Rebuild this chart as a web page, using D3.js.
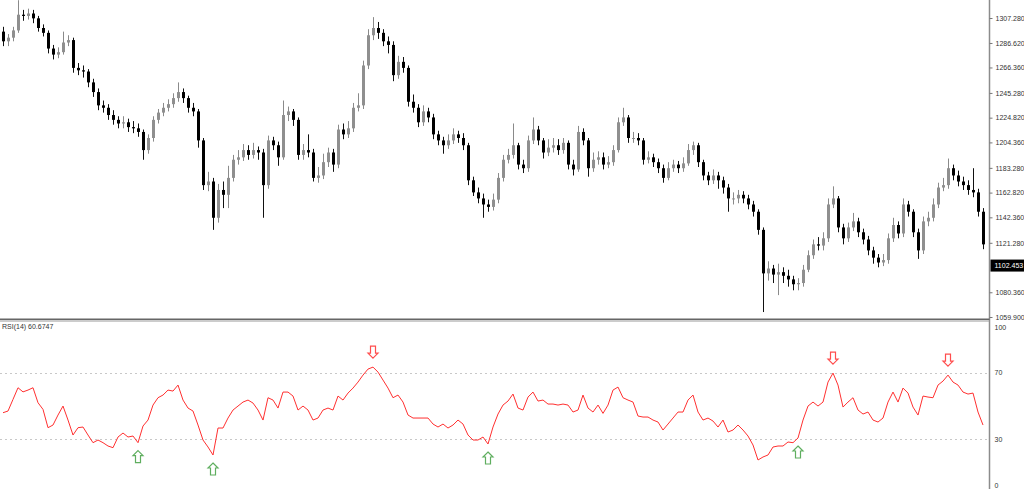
<!DOCTYPE html>
<html>
<head>
<meta charset="utf-8">
<script src="https://cdn.jsdelivr.net/npm/d3@7"></script>
<style>
  body { margin: 0; background: #fff; }
  svg text { font-family: "Liberation Sans", Arial, sans-serif; }
</style>
</head>
<body>
<div id="chart"></div>
<script>
// price candles (one per bar)
var opens = [1296,1288,1291,1297,1310,1309,1311,1307,1299,1295,
  1282,1277,1279,1287,1289,1266,1264,1263,1254,1246,
  1235,1233,1227,1223,1220,1221,1217,1216,1213,1198,
  1208,1223,1229,1233,1236,1241,1246,1241,1233,1230,
  1206,1169,1172,1142,1165,1161,1175,1190,1192,1198,
  1194,1198,1196,1169,1206,1202,1192,1227,1230,1223,
  1194,1198,1196,1175,1177,1188,1196,1186,1215,1211,
  1216,1233,1235,1268,1293,1299,1295,1288,1285,1260,
  1271,1266,1238,1233,1221,1230,1225,1211,1206,1202,
  1206,1211,1208,1202,1173,1163,1158,1153,1151,1157,
  1175,1190,1194,1202,1186,1183,1206,1215,1206,1196,
  1200,1202,1198,1204,1186,1182,1213,1206,1183,1190,
  1192,1186,1188,1198,1221,1225,1208,1208,1206,1190,
  1192,1188,1183,1175,1183,1186,1183,1187,1198,1202,
  1188,1177,1173,1177,1173,1167,1158,1158,1161,1158,
  1153,1147,1132,1096,1100,1095,1097,1094,1091,1087,
  1088,1099,1111,1120,1119,1125,1153,1158,1134,1125,
  1134,1139,1130,1124,1115,1109,1105,1107,1125,1136,
  1129,1153,1147,1130,1115,1139,1142,1153,1167,1169,
  1183,1177,1172,1169,1165,1163,1147];
var highs = [1300,1294,1300,1322,1314,1315,1314,1309,1302,1297,
  1285,1283,1296,1293,1291,1270,1268,1265,1257,1249,
  1239,1236,1231,1226,1226,1224,1222,1220,1215,1211,
  1226,1232,1237,1240,1245,1254,1249,1243,1237,1232,
  1208,1180,1175,1170,1172,1185,1194,1198,1203,1202,
  1204,1201,1199,1210,1209,1205,1239,1234,1232,1225,
  1203,1211,1199,1184,1195,1200,1199,1219,1220,1222,
  1237,1245,1272,1298,1308,1304,1298,1292,1288,1276,
  1275,1268,1244,1236,1235,1233,1228,1214,1209,1211,
  1216,1214,1212,1204,1176,1167,1162,1157,1162,1179,
  1194,1199,1220,1204,1190,1210,1225,1218,1208,1207,
  1208,1207,1208,1206,1190,1218,1216,1208,1196,1197,
  1196,1193,1202,1225,1233,1227,1213,1212,1208,1197,
  1195,1191,1186,1188,1190,1189,1192,1203,1205,1204,
  1190,1180,1182,1180,1176,1170,1163,1165,1164,1161,
  1156,1149,1134,1106,1103,1104,1101,1099,1094,1092,
  1103,1115,1124,1126,1130,1158,1168,1160,1137,1138,
  1146,1142,1133,1127,1118,1112,1112,1129,1142,1139,
  1158,1156,1149,1133,1143,1147,1158,1171,1175,1191,
  1186,1181,1176,1173,1183,1166,1150];
var lows = [1284,1284,1288,1295,1305,1306,1303,1296,1292,1278,
  1273,1274,1277,1284,1262,1260,1258,1250,1242,1231,
  1229,1223,1219,1216,1216,1213,1212,1209,1190,1195,
  1205,1220,1226,1230,1233,1238,1237,1229,1226,1200,
  1165,1164,1132,1138,1150,1150,1172,1186,1189,1190,
  1191,1190,1142,1166,1198,1185,1190,1222,1218,1190,
  1190,1192,1172,1171,1174,1184,1180,1183,1207,1208,
  1213,1230,1232,1265,1289,1290,1284,1278,1255,1257,
  1262,1234,1229,1217,1218,1221,1207,1202,1195,1199,
  1203,1204,1198,1169,1160,1154,1142,1147,1148,1154,
  1172,1187,1191,1182,1179,1180,1203,1202,1191,1193,
  1196,1194,1195,1182,1177,1180,1202,1176,1180,1186,
  1182,1183,1185,1196,1218,1204,1204,1202,1186,1187,
  1184,1179,1171,1173,1180,1179,1180,1185,1194,1184,
  1173,1169,1170,1166,1162,1147,1153,1154,1154,1149,
  1143,1128,1064,1090,1088,1078,1088,1085,1082,1082,
  1085,1097,1108,1115,1115,1122,1150,1130,1120,1122,
  1131,1126,1120,1111,1104,1101,1102,1104,1122,1125,
  1126,1143,1126,1108,1112,1135,1139,1150,1164,1166,
  1173,1168,1165,1161,1159,1143,1116];
var closes = [1288,1291,1297,1310,1309,1311,1307,1299,1295,1282,
  1277,1279,1287,1289,1266,1264,1263,1254,1246,1235,
  1233,1227,1223,1220,1221,1217,1216,1213,1198,1208,
  1223,1229,1233,1236,1241,1246,1241,1233,1230,1206,
  1169,1172,1142,1165,1161,1175,1190,1192,1198,1194,
  1198,1196,1169,1206,1202,1192,1227,1230,1223,1194,
  1198,1196,1175,1177,1188,1196,1186,1215,1211,1216,
  1233,1235,1268,1293,1299,1295,1288,1285,1260,1271,
  1266,1238,1233,1221,1230,1225,1211,1206,1202,1206,
  1211,1208,1202,1173,1163,1158,1153,1151,1157,1175,
  1190,1194,1202,1186,1183,1206,1215,1206,1196,1200,
  1202,1198,1204,1186,1182,1213,1206,1183,1190,1192,
  1186,1188,1198,1221,1225,1208,1208,1206,1190,1192,
  1188,1183,1175,1183,1186,1183,1187,1198,1202,1188,
  1177,1173,1177,1173,1167,1158,1158,1161,1158,1153,
  1147,1132,1096,1100,1095,1097,1094,1091,1087,1088,
  1099,1111,1120,1119,1125,1153,1158,1134,1125,1134,
  1139,1130,1124,1115,1109,1105,1107,1125,1136,1129,
  1153,1147,1130,1115,1139,1142,1153,1167,1169,1183,
  1177,1172,1169,1165,1163,1147,1120];

// RSI(14) per bar
var rsiValues = [46,47,54,61,58.5,59.6,61,52,48,37,
  38.6,44.6,50,41.6,32.6,37,37.4,32.6,28,29.6,
  28,26,25,31.4,33.8,31.4,32,28,38,41.6,
  50.6,55,56.6,59.6,59,62.6,53.6,48.8,47,38.6,
  29.6,25.4,20.6,36.8,36.8,42.8,47.6,50,52.4,53.6,
  51.8,47.6,41.6,55,53.6,48.8,58.4,58.4,56,47.6,
  50,47.6,41.6,42.8,47.6,48.8,47.6,56,53.6,57.8,
  60.8,64.4,68.6,72.2,73.4,70.4,65.6,60.8,55,56.6,
  52.4,44.6,42.8,42.8,42.8,42.8,39.2,37.4,39.2,36.8,
  38.6,41.6,39.2,32.6,29.6,29.6,31.4,27.2,37.4,45.2,
  50.6,53,57.2,48.8,47.6,55.4,58.4,53,53.6,51.2,
  51.2,50.6,51.2,50.6,46.4,47.6,56.6,48.8,46.4,50.6,
  45.6,50.6,59.6,61.4,55,53.6,52.4,44,43.4,43.4,
  41.6,40.4,35.6,39.2,42.8,46.4,46.4,53.6,56.6,46.4,
  41.6,42.8,41,37.4,41.6,34.4,35.6,38.6,35.6,32,
  26.6,17.6,19.4,20.6,25.4,26,26,28.4,28,30.8,
  41.6,50,52.4,50,52.4,64.4,69.8,62.6,49.4,52.4,
  55,47.6,45.2,46.4,41.6,40.4,42.8,52.4,58.4,52.4,
  60.8,57.8,49.4,44.6,56,55.4,55,62.6,65,68.6,
  64.4,62.6,58.4,57.2,57.8,46.4,38.6];

var priceTicks = [1307.280, 1286.620, 1266.360, 1245.280, 1224.820, 1204.360,
  1183.280, 1162.820, 1142.360, 1121.280, 1080.360, 1059.900];
var currentPrice = 1102.453;
var rsiTicks = [100, 70, 30, 0];
var rsiLevels = [70, 30];
var upArrows = [27, 42, 97, 159];
var downArrows = [74, 166, 189];
var rsiTitle = "RSI(14) 60.6747";

var width = 1024, height = 489;
var axisX = 989.5;

var svg = d3.select("#chart").append("svg")
    .attr("width", width)
    .attr("height", height)
    .style("display", "block");

svg.append("rect").attr("width", width).attr("height", height).attr("fill", "#fff");

var x = d3.scaleLinear().domain([0, closes.length - 1]).range([3, 983]);
var y = d3.scaleLinear().domain([1059.9, 1307.28]).range([317, 18]);
var yr = d3.scaleLinear().domain([0, 100]).range([489.3, 322.8]);

// candles
var candles = svg.append("g").selectAll("g")
    .data(closes)
    .enter().append("g");

candles.append("line")
    .attr("x1", function(d, i) { return Math.round(x(i)) + 0.5; })
    .attr("x2", function(d, i) { return Math.round(x(i)) + 0.5; })
    .attr("y1", function(d, i) { return y(highs[i]); })
    .attr("y2", function(d, i) { return y(lows[i]); })
    .attr("stroke", function(d, i) { return d >= opens[i] ? "#8a8a8a" : "#111"; })
    .attr("stroke-width", 1);

candles.append("rect")
    .attr("x", function(d, i) { return Math.round(x(i)) - 1; })
    .attr("width", 3)
    .attr("y", function(d, i) { return y(Math.max(d, opens[i])); })
    .attr("height", function(d, i) { return Math.max(1, Math.abs(y(d) - y(opens[i]))); })
    .attr("fill", function(d, i) { return d >= opens[i] ? "#8f8f8f" : "#000"; });

// right axis line
svg.append("line")
    .attr("x1", axisX).attr("x2", axisX)
    .attr("y1", 0).attr("y2", height)
    .attr("stroke", "#8c8c8c").attr("stroke-width", 1.5);

// price axis
var priceAxis = svg.append("g")
    .attr("transform", "translate(" + axisX + ",0)")
    .call(d3.axisRight(y).tickValues(priceTicks).tickSize(3).tickPadding(3)
        .tickFormat(d3.format(".3f")));
priceAxis.select(".domain").remove();
priceAxis.selectAll("line").attr("stroke", "#777");
priceAxis.selectAll("text").attr("font-size", "7px").attr("fill", "#333");

// current price label
svg.append("rect")
    .attr("x", axisX + 1).attr("y", y(currentPrice) - 6)
    .attr("width", width - axisX).attr("height", 12)
    .attr("fill", "#000");
svg.append("text")
    .attr("x", axisX + 5).attr("y", y(currentPrice))
    .attr("dy", "0.35em")
    .attr("font-size", "7px").attr("fill", "#fff")
    .text(d3.format(".3f")(currentPrice));

// panel separator
svg.append("rect")
    .attr("x", 0).attr("y", 318.5).attr("width", axisX).attr("height", 1.5).attr("fill", "#666");
svg.append("rect")
    .attr("x", 0).attr("y", 320.5).attr("width", axisX).attr("height", 1).attr("fill", "#999");

// RSI level lines
svg.append("g").selectAll("line")
    .data(rsiLevels)
    .enter().append("line")
    .attr("x1", 0).attr("x2", axisX - 1)
    .attr("y1", function(d) { return Math.round(yr(d)) + 0.5; })
    .attr("y2", function(d) { return Math.round(yr(d)) + 0.5; })
    .attr("stroke", "#c8c8c8").attr("stroke-dasharray", "2,3");

// RSI axis labels
svg.append("g").selectAll("text")
    .data(rsiTicks)
    .enter().append("text")
    .attr("x", axisX + 5)
    .attr("y", function(d) {
        if (d === 100) return yr(d) + 5;
        if (d === 0) return yr(d) - 4;
        return yr(d);
    })
    .attr("dy", "0.35em")
    .attr("font-size", "7px").attr("fill", "#333")
    .text(function(d) { return d; });

// RSI line
var rsiLine = d3.line()
    .x(function(d, i) { return x(i); })
    .y(function(d) { return yr(d); });

svg.append("path")
    .datum(rsiValues)
    .attr("d", rsiLine)
    .attr("fill", "none")
    .attr("stroke", "#ff3030")
    .attr("stroke-width", 1);

svg.append("text")
    .attr("x", 2).attr("y", 327)
    .attr("dy", "0.35em")
    .attr("font-size", "7px").attr("fill", "#333")
    .text(rsiTitle);

// signal arrows
var upShape = "M0,0 L5,5 L2.5,5 L2.5,12 L-2.5,12 L-2.5,5 L-5,5 Z";
var downShape = "M0,12 L5,7 L2.5,7 L2.5,0 L-2.5,0 L-2.5,7 L-5,7 Z";

svg.append("g").selectAll("path")
    .data(upArrows)
    .enter().append("path")
    .attr("d", upShape)
    .attr("transform", function(d) { return "translate(" + x(d) + "," + (yr(rsiValues[d]) + 8) + ")"; })
    .attr("fill", "#fff").attr("stroke", "#5fae5f").attr("stroke-width", 1.2);

svg.append("g").selectAll("path")
    .data(downArrows)
    .enter().append("path")
    .attr("d", downShape)
    .attr("transform", function(d) { return "translate(" + x(d) + "," + (yr(rsiValues[d]) - 21) + ")"; })
    .attr("fill", "#fff").attr("stroke", "#ff4d4d").attr("stroke-width", 1.2);
</script>
</body>
</html>
